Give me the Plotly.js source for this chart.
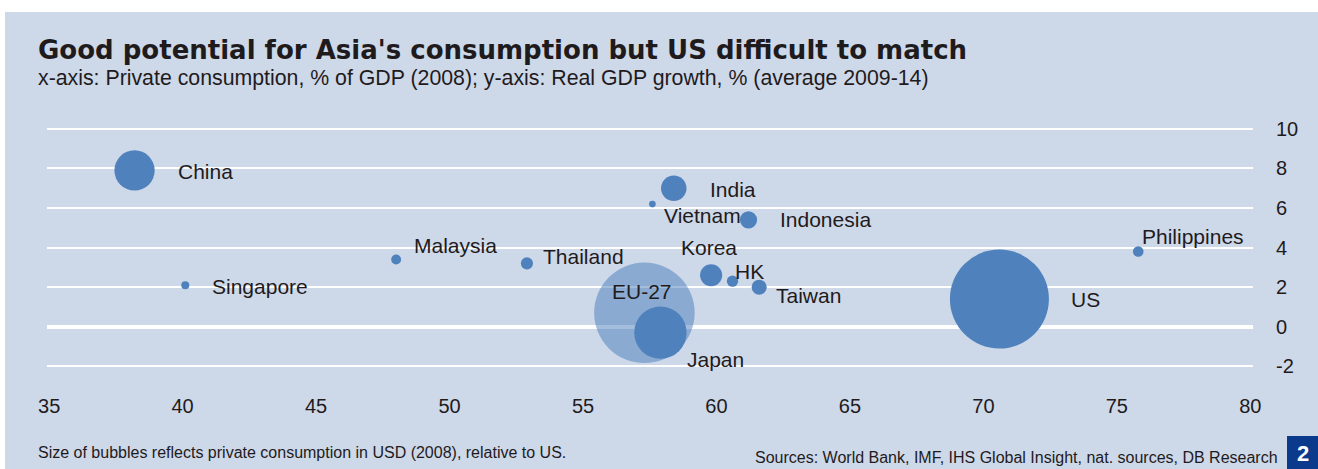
<!DOCTYPE html>
<html>
<head>
<meta charset="utf-8">
<script src="https://cdn.plot.ly/plotly-3.0.1.min.js"></script>
<style>
  html, body { margin: 0; padding: 0; background: #ffffff; }
  #chart { position: absolute; left: 5px; top: 12px; width: 1313px; height: 457px; }
</style>
</head>
<body>
<div id="chart"></div>
<script>
// Data
const countries = ["China", "Singapore", "Malaysia", "Thailand", "India", "Vietnam", "Indonesia",
                   "Korea", "HK", "Taiwan", "EU-27", "Japan", "US", "Philippines"];
// Private consumption, % of GDP (2008)
const consumptionShare = [38.2, 40.1, 48.0, 52.9, 58.4, 57.6, 61.2, 59.8, 60.6, 61.6, 57.3, 57.9, 70.6, 75.8];
// Real GDP growth, % (average 2009-14)
const gdpGrowth = [7.9, 2.1, 3.4, 3.2, 7.0, 6.2, 5.4, 2.6, 2.3, 2.0, 0.7, -0.3, 1.4, 3.8];
// Private consumption in USD (2008), relative to US
const consumptionRelUS = [0.165, 0.0066, 0.010, 0.015, 0.066, 0.0045, 0.030, 0.050, 0.013, 0.023, 1.03, 0.28, 1.0, 0.0116];

const xTicks = [35, 40, 45, 50, 55, 60, 65, 70, 75, 80];
const yTicks = [-2, 0, 2, 4, 6, 8, 10];
const yTickText = ["-2", "0", "2", "4", "6", "8", "10"];

// label placement relative to each bubble (px)
const labelPos = {
  "China":       { dx: 41, dy: -1 },
  "Singapore":   { dx: 25, dy: -1 },
  "Malaysia":    { dx: 16, dy: 14 },
  "Thailand":    { dx: 14, dy: 7 },
  "India":       { dx: 34, dy: -1 },
  "Vietnam":     { dx: 10, dy: -11 },
  "Indonesia":   { dx: 29, dy: 0 },
  "Korea":       { dx: -2, dy: 28, center: true },
  "HK":          { dx: 1,  dy: 10 },
  "Taiwan":      { dx: 15, dy: -8 },
  "EU-27":       { dx: -2, dy: 21, center: true },
  "Japan":       { dx: 25, dy: -27 },
  "US":          { dx: 70, dy: 0 },
  "Philippines": { dx: 2,  dy: 15 }
};

const BLUE = "#4f81bd";
const BG = "#cdd8e9";
const TXT = "#1f1b1c";
const FONT = "Liberation Sans, Arial, sans-serif";

// plot area in px (inside the 1313x457 div)
const M = { l: 42, r: 65, t: 107, b: 79 };
const W = 1313 - M.l - M.r;
const H = 457 - M.t - M.b;
function paperX(px) { return (px - M.l) / W; }
function paperY(py) { return (M.t + H - py) / H; }

// US bubble is ~99px across (plotly halves the area value internally)
const sizeref = 2.0 / (99 * 99);

const isEU = countries.map(c => c === "EU-27");
const notEU = isEU.map(v => !v);
function pick(arr, keep) { return arr.filter((_, i) => keep[i]); }

const traces = [
  {
    x: pick(consumptionShare, isEU),
    y: pick(gdpGrowth, isEU),
    text: pick(countries, isEU),
    mode: "markers",
    type: "scatter",
    hoverinfo: "text",
    marker: { size: pick(consumptionRelUS, isEU), sizemode: "area", sizeref: sizeref,
              color: BLUE, opacity: 0.52, line: { width: 0 } },
    showlegend: false
  },
  {
    x: pick(consumptionShare, notEU),
    y: pick(gdpGrowth, notEU),
    text: pick(countries, notEU),
    mode: "markers",
    type: "scatter",
    hoverinfo: "text",
    marker: { size: pick(consumptionRelUS, notEU), sizemode: "area", sizeref: sizeref,
              color: BLUE, opacity: 1, line: { width: 0 } },
    showlegend: false
  }
];

const annotations = countries.map((c, i) => {
  const p = labelPos[c];
  return {
    x: consumptionShare[i], y: gdpGrowth[i], xref: "x", yref: "y",
    text: c, showarrow: false,
    xanchor: p.center ? "center" : "left", yanchor: "middle",
    xshift: p.dx, yshift: p.dy,
    font: { family: FONT, size: 21, color: TXT }
  };
});

annotations.push(
  { xref: "paper", yref: "paper", x: paperX(31), y: paperY(38), xanchor: "left", yanchor: "middle",
    showarrow: false, text: "<b>Good potential for Asia's consumption but US difficult to match</b>",
    font: { family: "DejaVu Sans, sans-serif", size: 26, color: TXT } },
  { xref: "paper", yref: "paper", x: paperX(31), y: paperY(66), xanchor: "left", yanchor: "middle",
    showarrow: false, text: "x-axis: Private consumption, % of GDP (2008); y-axis: Real GDP growth, % (average 2009-14)",
    font: { family: FONT, size: 21.3, color: TXT } },
  { xref: "paper", yref: "paper", x: paperX(31), y: paperY(440), xanchor: "left", yanchor: "middle",
    showarrow: false, text: "Size of bubbles reflects private consumption in USD (2008), relative to US.",
    font: { family: FONT, size: 16, color: TXT } },
  { xref: "paper", yref: "paper", x: paperX(1275), y: paperY(445), xanchor: "right", yanchor: "middle",
    showarrow: false, text: "Sources: World Bank, IMF, IHS Global Insight, nat. sources, DB Research",
    font: { family: FONT, size: 16, color: TXT } },
  { xref: "paper", yref: "paper", x: paperX(1297.5), y: paperY(441), xanchor: "center", yanchor: "middle",
    showarrow: false, text: "<b>2</b>",
    font: { family: FONT, size: 22, color: "#ffffff" } }
);

const layout = {
  width: 1313,
  height: 457,
  margin: M,
  paper_bgcolor: BG,
  plot_bgcolor: BG,
  font: { family: FONT, size: 20, color: TXT },
  xaxis: {
    range: [34.92, 80.1],
    tickvals: xTicks,
    showgrid: false,
    zeroline: false,
    showline: false,
    ticks: "",
    ticklabelstandoff: 2,
    tickfont: { family: FONT, size: 20, color: TXT }
  },
  yaxis: {
    range: [-3.2, 10.5],
    side: "right",
    tickvals: yTicks,
    ticktext: yTickText,
    showgrid: true,
    gridcolor: "#ffffff",
    gridwidth: 2,
    zeroline: true,
    zerolinecolor: "#ffffff",
    zerolinewidth: 4,
    showline: false,
    ticks: "",
    ticklabelstandoff: 22,
    tickfont: { family: FONT, size: 20, color: TXT }
  },
  shapes: [
    { type: "rect", xref: "paper", yref: "paper", layer: "above",
      x0: paperX(1282), x1: paperX(1313), y0: paperY(424), y1: paperY(457),
      fillcolor: "#0b3a8c", line: { width: 0 } }
  ],
  annotations: annotations,
  showlegend: false
};

Plotly.newPlot("chart", traces, layout, { displayModeBar: false, staticPlot: true });
</script>
</body>
</html>
